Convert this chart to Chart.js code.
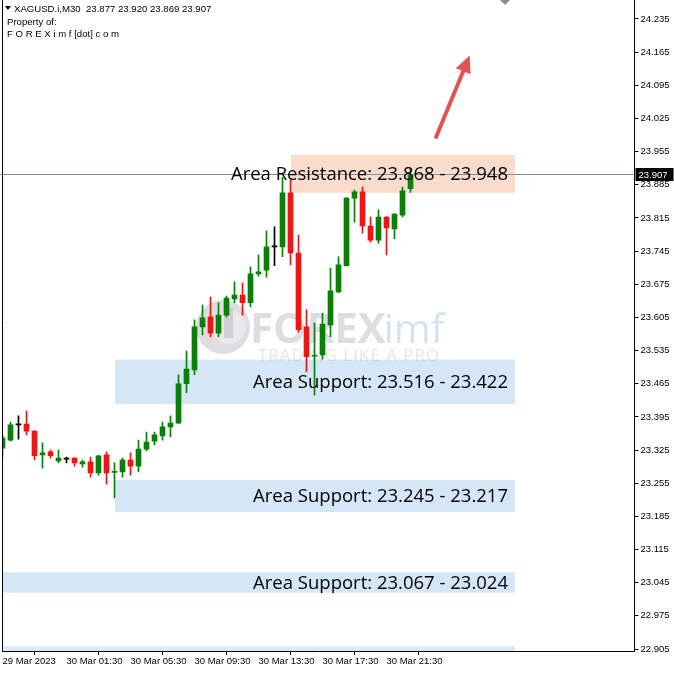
<!DOCTYPE html>
<html>
<head>
<meta charset="utf-8">
<script src="https://cdn.jsdelivr.net/npm/chart.js@4.4.1/dist/chart.umd.min.js"></script>
<style>
  html, body { margin: 0; padding: 0; background: #fff; }
  #wrap { width: 674px; height: 673px; }
</style>
</head>
<body>
<div id="wrap"><canvas id="chart" width="674" height="673"></canvas></div>
<script>
// XAGUSD.i M30 candles, 29 Mar 21:30 .. 30 Mar 23:00
var opens  = [23.329,23.346,23.378,23.380,23.365,23.315,23.321,23.302,23.306,23.308,23.296,23.300,23.277,23.315,23.278,23.279,23.304,23.291,23.327,23.344,23.355,23.374,23.382,23.465,23.494,23.585,23.606,23.572,23.610,23.644,23.652,23.636,23.697,23.705,23.754,23.754,23.868,23.741,23.585,23.523,23.526,23.589,23.659,23.714,23.857,23.870,23.798,23.768,23.817,23.792,23.821,23.877];
var highs  = [23.357,23.384,23.397,23.408,23.366,23.340,23.325,23.325,23.310,23.309,23.304,23.310,23.314,23.321,23.298,23.308,23.319,23.346,23.363,23.363,23.384,23.397,23.484,23.534,23.600,23.631,23.648,23.636,23.650,23.680,23.678,23.712,23.737,23.788,23.796,23.901,23.895,23.779,23.621,23.593,23.614,23.709,23.733,23.858,23.874,23.880,23.817,23.832,23.818,23.824,23.880,23.920];
var lows   = [23.310,23.344,23.348,23.357,23.304,23.287,23.308,23.298,23.298,23.291,23.289,23.268,23.272,23.253,23.224,23.268,23.272,23.279,23.323,23.336,23.346,23.353,23.382,23.446,23.484,23.568,23.564,23.564,23.606,23.636,23.610,23.627,23.692,23.690,23.714,23.733,23.716,23.574,23.490,23.441,23.517,23.564,23.657,23.713,23.806,23.783,23.764,23.762,23.737,23.771,23.817,23.869];
var closes = [23.351,23.378,23.378,23.365,23.313,23.319,23.313,23.308,23.306,23.298,23.300,23.277,23.313,23.277,23.280,23.304,23.291,23.327,23.342,23.357,23.374,23.382,23.465,23.496,23.585,23.604,23.572,23.610,23.646,23.652,23.636,23.697,23.701,23.754,23.754,23.868,23.741,23.579,23.522,23.525,23.591,23.661,23.716,23.857,23.870,23.798,23.768,23.817,23.794,23.823,23.872,23.907];

var yTicks = [22.905,22.975,23.045,23.115,23.185,23.255,23.325,23.395,23.465,23.535,23.605,23.675,23.745,23.815,23.885,23.955,24.025,24.095,24.165,24.235];
var xTickLabels = ['29 Mar 2023','30 Mar 01:30','30 Mar 05:30','30 Mar 09:30','30 Mar 13:30','30 Mar 17:30','30 Mar 21:30'];
var barsPerTick = 8;
var totalSlots = 80;  // chart shift leaves empty space on the right

var lastPrice = 23.907;
var header = 'XAGUSD.i,M30  23.877 23.920 23.869 23.907';

// zones: [from bar, to bar, top price, bottom price]
var zoneNames  = ['Area Resistance: 23.868 - 23.948','Area Support: 23.516 - 23.422','Area Support: 23.245 - 23.217','Area Support: 23.067 - 23.024',''];
var zoneFrom   = [36.06, 14.06, 14.06, -1, -1];
var zoneTo     = [64.06, 64.06, 64.06, 64.06, 64.06];
var zoneTop    = [23.948, 23.516, 23.262, 23.067, 22.911];
var zoneBottom = [23.868, 23.422, 23.194, 23.024, 22.85];
var zoneColor  = ['#fadccd','#d5e6f7','#d5e6f7','#d5e6f7','#dde9f4'];

var arrowFrom = [54.2, 23.986];
var arrowTo   = [58.4, 24.158];

var labels = [];
for (var i = 0; i < totalSlots; i++) {
  var m = (21 * 60 + 30 + i * 30) % (24 * 60);
  var hh = Math.floor(m / 60), mm = m % 60;
  labels.push((hh < 10 ? '0' : '') + hh + ':' + (mm < 10 ? '0' : '') + mm);
}

var GREEN = '#0b7e0b', RED = '#ee1515', DOJI = '#000000';
var colors = opens.map(function (o, i) {
  return closes[i] > o ? GREEN : (closes[i] < o ? RED : DOJI);
});

var overlay = {
  id: 'overlay',
  beforeDatasetsDraw: function (chart) {
    var ctx = chart.ctx, x = chart.scales.x, y = chart.scales.y, a = chart.chartArea;
    ctx.save();
    ctx.beginPath();
    ctx.rect(a.left, a.top, a.right - a.left, a.bottom - a.top);
    ctx.clip();
    for (var i = 0; i < zoneTop.length; i++) {
      var x0 = x.getPixelForValue(zoneFrom[i]), x1 = x.getPixelForValue(zoneTo[i]);
      var y0 = y.getPixelForValue(zoneTop[i]), y1 = y.getPixelForValue(zoneBottom[i]);
      ctx.fillStyle = zoneColor[i];
      ctx.fillRect(x0, y0, x1 - x0, y1 - y0);
    }
    // watermark
    ctx.globalAlpha = 0.33;
    ctx.fillStyle = '#9a9aa6';
    ctx.beginPath();
    ctx.arc(223, 327, 27, 0, Math.PI * 2);
    ctx.fill();
    ctx.fillStyle = '#ffffff';
    ctx.beginPath();
    ctx.arc(229, 327, 17, 0, Math.PI * 2);
    ctx.fill();
    ctx.fillStyle = '#9a9aa6';
    ctx.fillRect(224, 308, 9, 30);
    ctx.font = 'bold 42px "Open Sans"';
    ctx.textBaseline = 'alphabetic';
    ctx.textAlign = 'left';
    ctx.fillText('FOREX', 250, 343);
    var w = ctx.measureText('FOREX').width;
    ctx.fillStyle = '#7fa8de';
    ctx.font = '40px "Open Sans"';
    ctx.fillText('imf', 248 + w, 343);
    ctx.fillStyle = '#b0b0b8';
    ctx.font = '17px "Open Sans"';
    ctx.letterSpacing = '1px';
    ctx.fillText('TRADING LIKE A PRO', 258, 361);
    ctx.restore();
  },
  afterDatasetsDraw: function (chart) {
    var ctx = chart.ctx, x = chart.scales.x, y = chart.scales.y, a = chart.chartArea;
    ctx.save();
    // current price line
    var py = Math.round(y.getPixelForValue(lastPrice)) + 0.5;
    ctx.strokeStyle = '#7890a8';
    ctx.lineWidth = 1;
    ctx.beginPath();
    ctx.moveTo(0, py);
    ctx.lineTo(a.right, py);
    ctx.stroke();
    // zone labels
    ctx.fillStyle = '#000';
    ctx.font = '18.5px "Open Sans"';
    ctx.textAlign = 'right';
    ctx.textBaseline = 'middle';
    for (var i = 0; i < zoneNames.length; i++) {
      if (!zoneNames[i]) continue;
      var ym = (y.getPixelForValue(zoneTop[i]) + y.getPixelForValue(zoneBottom[i])) / 2;
      ctx.fillText(zoneNames[i], x.getPixelForValue(zoneTo[i]) - 7, ym + 1);
    }
    // arrow
    var ax0 = x.getPixelForValue(arrowFrom[0]), ay0 = y.getPixelForValue(arrowFrom[1]);
    var ax1 = x.getPixelForValue(arrowTo[0]), ay1 = y.getPixelForValue(arrowTo[1]);
    var ang = Math.atan2(ay1 - ay0, ax1 - ax0);
    ctx.strokeStyle = '#e05552';
    ctx.fillStyle = '#e05552';
    ctx.lineWidth = 4;
    ctx.lineCap = 'round';
    ctx.beginPath();
    ctx.moveTo(ax0, ay0);
    ctx.lineTo(ax1 - 10 * Math.cos(ang), ay1 - 10 * Math.sin(ang));
    ctx.stroke();
    ctx.beginPath();
    ctx.moveTo(ax1, ay1);
    ctx.lineTo(ax1 - 17 * Math.cos(ang) + 8 * Math.sin(ang), ay1 - 17 * Math.sin(ang) - 8 * Math.cos(ang));
    ctx.lineTo(ax1 - 17 * Math.cos(ang) - 8 * Math.sin(ang), ay1 - 17 * Math.sin(ang) + 8 * Math.cos(ang));
    ctx.closePath();
    ctx.fill();
    ctx.restore();
  },
  afterDraw: function (chart) {
    var ctx = chart.ctx, y = chart.scales.y, a = chart.chartArea;
    ctx.save();
    // frame left
    ctx.strokeStyle = '#000';
    ctx.lineWidth = 1;
    ctx.beginPath();
    ctx.moveTo(2.5, a.bottom);
    ctx.lineTo(2.5, 0);
    ctx.stroke();
    // price tag on axis
    var py = Math.round(y.getPixelForValue(lastPrice));
    ctx.fillStyle = '#000';
    ctx.fillRect(a.right + 1, py - 6, 38, 13);
    ctx.fillStyle = '#fff';
    ctx.font = '9.5px "Liberation Sans"';
    ctx.textAlign = 'left';
    ctx.textBaseline = 'middle';
    ctx.fillText(lastPrice.toFixed(3), a.right + 4, py + 1);
    // header text
    ctx.fillStyle = '#000';
    ctx.font = '9.6px "Liberation Sans"';
    ctx.fillText(header, 14, 9);
    ctx.fillText('Property of:', 7, 22);
    ctx.fillText('F O R E X i m f [dot] c o m', 7, 34);
    ctx.beginPath();
    ctx.moveTo(5, 6); ctx.lineTo(11, 6); ctx.lineTo(8, 10); ctx.closePath();
    ctx.fill();
    // chart shift marker
    ctx.fillStyle = '#8c8c96';
    ctx.beginPath();
    ctx.moveTo(500, 0); ctx.lineTo(510, 0); ctx.lineTo(505, 5); ctx.closePath();
    ctx.fill();
    ctx.restore();
  }
};

function noPad(s) {
  s.paddingTop = 0; s.paddingBottom = 0; s.paddingLeft = 0; s.paddingRight = 0;
}

new Chart(document.getElementById('chart'), {
  type: 'bar',
  data: {
    labels: labels,
    datasets: [{
      label: 'wick',
      data: lows.map(function (l, i) { return [l, highs[i]]; }),
      backgroundColor: colors,
      barThickness: 1,
      grouped: false,
      order: 2
    }, {
      label: 'body',
      data: opens.map(function (o, i) { return [o, closes[i]]; }),
      backgroundColor: colors,
      barThickness: 5,
      minBarLength: 1,
      grouped: false,
      order: 1
    }]
  },
  options: {
    responsive: false,
    animation: false,
    devicePixelRatio: 1,
    layout: { padding: { left: 2.5, top: 0, right: 0, bottom: 0 } },
    plugins: { legend: { display: false }, tooltip: { enabled: false } },
    scales: {
      x: {
        offset: false,
        grid: { drawOnChartArea: false, drawTicks: true, tickLength: 4, color: '#000' },
        border: { display: true, color: '#000' },
        ticks: {
          autoSkip: false,
          maxRotation: 0,
          align: 'start',
          padding: 1,
          color: '#000',
          font: { family: '"Liberation Sans"', size: 9.5 },
          callback: function (v, i) {
            if (i % barsPerTick !== 0) return null;
            var t = xTickLabels[i / barsPerTick];
            return t === undefined ? null : t;
          }
        },
        afterFit: function (s) { s.height = 22; noPad(s); }
      },
      y: {
        position: 'right',
        min: 22.9008,
        max: 24.2751,
        grid: { drawOnChartArea: false, drawTicks: true, tickLength: 4, color: '#000' },
        border: { display: true, color: '#000' },
        afterBuildTicks: function (s) { s.ticks = yTicks.map(function (v) { return { value: v }; }); },
        ticks: {
          padding: 2,
          color: '#000',
          font: { family: '"Liberation Sans"', size: 9.5 },
          callback: function (v) { return Number(v).toFixed(3); }
        },
        afterFit: function (s) { s.width = 39.5; noPad(s); }
      }
    }
  },
  plugins: [overlay]
});
</script>
</body>
</html>
